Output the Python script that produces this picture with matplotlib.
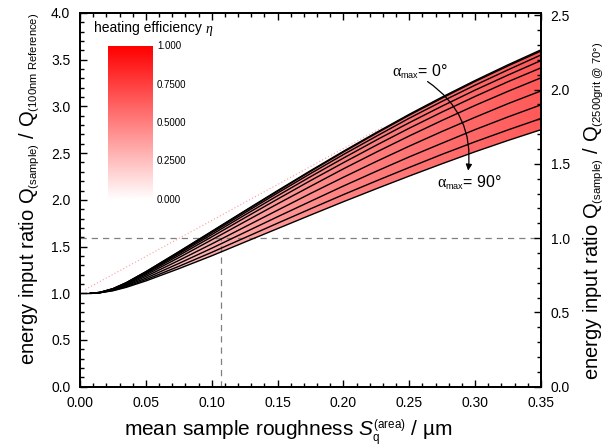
import numpy as np
import matplotlib
matplotlib.use("Agg")
import matplotlib.pyplot as plt
from matplotlib.colors import LinearSegmentedColormap
from matplotlib.patches import Polygon
from matplotlib.ticker import MultipleLocator, FormatStrFormatter
try:
    import matplotlib._mathtext as _mt
    _mt.SHRINK_FACTOR = 0.56
except Exception:
    pass

plt.rcParams['font.family'] = ['Liberation Sans', 'DejaVu Sans']
plt.rcParams['mathtext.fontset'] = 'custom'
plt.rcParams['mathtext.rm'] = 'Liberation Sans'
plt.rcParams['mathtext.it'] = 'Liberation Sans:italic'
plt.rcParams['mathtext.bf'] = 'Liberation Sans:bold'
plt.rcParams['mathtext.sf'] = 'Liberation Serif'

# ---------------- data ----------------
roughness = [0.008, 0.015, 0.025, 0.035, 0.05, 0.075, 0.10, 0.125, 0.15,
             0.175, 0.20, 0.225, 0.25, 0.275, 0.30, 0.325, 0.35]
alpha_max = [0, 10, 20, 30, 40, 50, 60, 70, 80, 90]
ratio_a00 = [1.000, 1.009, 1.049, 1.113, 1.231, 1.445, 1.663, 1.882, 2.099, 2.312, 2.520, 2.721, 2.916, 3.101, 3.278, 3.446, 3.606]
ratio_a10 = [1.000, 1.009, 1.049, 1.112, 1.230, 1.442, 1.659, 1.877, 2.092, 2.305, 2.512, 2.712, 2.906, 3.090, 3.267, 3.434, 3.593]
ratio_a20 = [1.000, 1.009, 1.048, 1.110, 1.225, 1.433, 1.646, 1.860, 2.073, 2.281, 2.485, 2.681, 2.874, 3.055, 3.228, 3.392, 3.551]
ratio_a30 = [1.000, 1.008, 1.046, 1.106, 1.218, 1.421, 1.628, 1.837, 2.044, 2.248, 2.447, 2.640, 2.826, 3.004, 3.175, 3.336, 3.491]
ratio_a40 = [1.000, 1.008, 1.044, 1.102, 1.209, 1.404, 1.604, 1.807, 2.008, 2.206, 2.398, 2.585, 2.767, 2.941, 3.107, 3.265, 3.413]
ratio_a50 = [1.000, 1.008, 1.041, 1.096, 1.196, 1.381, 1.572, 1.765, 1.957, 2.145, 2.332, 2.511, 2.684, 2.851, 3.011, 3.162, 3.306]
ratio_a60 = [1.000, 1.007, 1.038, 1.087, 1.180, 1.351, 1.528, 1.709, 1.889, 2.068, 2.242, 2.411, 2.575, 2.733, 2.884, 3.030, 3.166]
ratio_a70 = [1.000, 1.006, 1.034, 1.079, 1.162, 1.319, 1.482, 1.651, 1.819, 1.984, 2.148, 2.306, 2.460, 2.607, 2.752, 2.888, 3.017]
ratio_a80 = [1.000, 1.006, 1.030, 1.070, 1.146, 1.288, 1.438, 1.594, 1.750, 1.904, 2.056, 2.203, 2.347, 2.488, 2.622, 2.749, 2.871]
ratio_a90 = [1.000, 1.005, 1.027, 1.063, 1.132, 1.263, 1.401, 1.547, 1.692, 1.837, 1.980, 2.119, 2.255, 2.387, 2.515, 2.636, 2.751]
curves = [ratio_a00, ratio_a10, ratio_a20, ratio_a30, ratio_a40,
          ratio_a50, ratio_a60, ratio_a70, ratio_a80, ratio_a90]

flat_x = [0.0, 0.008]
flat_y = [1.0, 1.0]

# heating-efficiency colouring of the band along the roughness axis
eta_x = [0.0, 0.05, 0.10, 0.20, 0.35]
eta_val = [0.05, 0.20, 0.33, 0.49, 0.65]

# dotted reference line
ref_x = [0.004, 0.23]
ref_y = [1.04, 2.78]

# dashed guide lines
ref_rough = 0.1068
ref_ratio = 1.59
right_scale = 1.59

cbar_ticks = [1.0, 0.75, 0.5, 0.25, 0.0]
cbar_labels = ['1.000', '0.7500', '0.5000', '0.2500', '0.000']

# ---------------- figure ----------------
fig = plt.figure(figsize=(6.16, 4.48), dpi=100)
ax = fig.add_axes([80/616, 1-386.7/448, 461/616, 373.7/448])
ax.set_xlim(0, 0.35)
ax.set_ylim(0, 4)

cmap = LinearSegmentedColormap.from_list('wr', ['#ffffff', '#ff0000'])

# gradient fill between alpha=0 and alpha=90
xs = np.linspace(0, 0.35, 500)
grad = np.interp(xs, eta_x, eta_val)[None, :]
im = ax.imshow(grad, extent=[0, 0.35, 0, 4], aspect='auto', cmap=cmap,
               vmin=0, vmax=1, origin='lower', zorder=1, interpolation='bilinear')
verts = list(zip(roughness, ratio_a00)) + list(zip(roughness[::-1], ratio_a90[::-1]))
poly = Polygon(verts, closed=True, facecolor='none', edgecolor='none',
               transform=ax.transData)
ax.add_patch(poly)
im.set_clip_path(poly)

ax.plot(ref_x, ref_y, color='#ff9a9a', lw=0.8, ls=(0, (1, 2)), zorder=0.9)

for c in curves:
    ax.plot(roughness, c, color='black', lw=1.0, zorder=3)
ax.plot(flat_x, flat_y, color='black', lw=1.0, zorder=3)

ax.plot([0, 0.35], [ref_ratio, ref_ratio], color='#808080', lw=0.9,
        ls=(0, (5, 4)), zorder=2)
ax.plot([ref_rough, ref_rough], [0, ref_ratio], color='#808080', lw=0.9,
        ls=(0, (5, 4)), zorder=2)

# annotations
ax.text(0.2371, 3.327, r'$\mathsf{\alpha}_{\mathrm{max}}$= 0°', fontsize=11.5,
        ha='left', va='baseline', zorder=5)
ax.text(0.2714, 2.135, r'$\mathsf{\alpha}_{\mathrm{max}}$= 90°', fontsize=11.5,
        ha='left', va='baseline', zorder=5)
ax.annotate('', xy=(0.2947, 2.313), xytext=(0.2639, 3.266),
            arrowprops=dict(arrowstyle='-|>', connectionstyle='arc3,rad=-0.3',
                            color='black', lw=0.9, mutation_scale=9,
                            shrinkA=0, shrinkB=0), zorder=5)

# axes styling
ax.xaxis.set_major_locator(MultipleLocator(0.05))
ax.xaxis.set_minor_locator(MultipleLocator(0.01))
ax.yaxis.set_major_locator(MultipleLocator(0.5))
ax.yaxis.set_minor_locator(MultipleLocator(0.1))
ax.xaxis.set_major_formatter(FormatStrFormatter('%.2f'))
ax.yaxis.set_major_formatter(FormatStrFormatter('%.1f'))
ax.tick_params(which='both', direction='in', top=True, right=False,
               labelsize=10, width=1.0)
ax.tick_params(which='major', length=5, pad=7)
ax.tick_params(which='minor', length=3)
for s in ax.spines.values():
    s.set_linewidth(1.3)

ax2 = ax.twinx()
ax2.set_ylim(0, 4/right_scale)
ax2.yaxis.set_major_locator(MultipleLocator(0.5))
ax2.yaxis.set_minor_locator(MultipleLocator(0.1))
ax2.yaxis.set_major_formatter(FormatStrFormatter('%.1f'))
ax2.tick_params(which='both', direction='in', labelsize=10, width=1.0)
ax2.tick_params(which='major', length=5, pad=7)
ax2.tick_params(which='minor', length=3)
for s in ax2.spines.values():
    s.set_linewidth(1.3)

# axis labels
fig.text(30/616, 1-189/448,
         r'energy input ratio $\mathrm{Q}_{\mathrm{(sample)}}$ / $\mathrm{Q}_{\mathrm{(100nm\ Reference)}}$',
         rotation=90, fontsize=14.5, ha='center', va='center')
fig.text(594/616, 1-211/448,
         r'energy input ratio $\mathrm{Q}_{\mathrm{(sample)}}$ / $\mathrm{Q}_{\mathrm{(2500grit\ @\ 70°)}}$',
         rotation=90, fontsize=14.5, ha='center', va='center')
fig.text(288/616, 1-433/448,
         r'mean sample roughness $S_{\mathrm{q}}^{\mathrm{(area)}}$ / µm',
         fontsize=15, ha='center', va='center')

# colour scale legend
cax = fig.add_axes([108/616, 1-200/448, 45/616, 154/448])
cax.imshow(np.linspace(0, 1, 256)[:, None], origin='lower', cmap=cmap,
           aspect='auto', extent=[0, 1, 0, 1], vmin=0, vmax=1)
cax.axis('off')
for t, lab in zip(cbar_ticks, cbar_labels):
    fig.text(157/616, 1-(200-154*t)/448, lab, fontsize=7, ha='left', va='center')
fig.text(94/616, 1-28/448, 'heating efficiency', fontsize=10,
         ha='left', va='center')
fig.text(206/616, 1-29/448, 'η', fontsize=10, family='Liberation Serif',
         style='italic', ha='left', va='center')

fig.savefig('out.png', dpi=100)
